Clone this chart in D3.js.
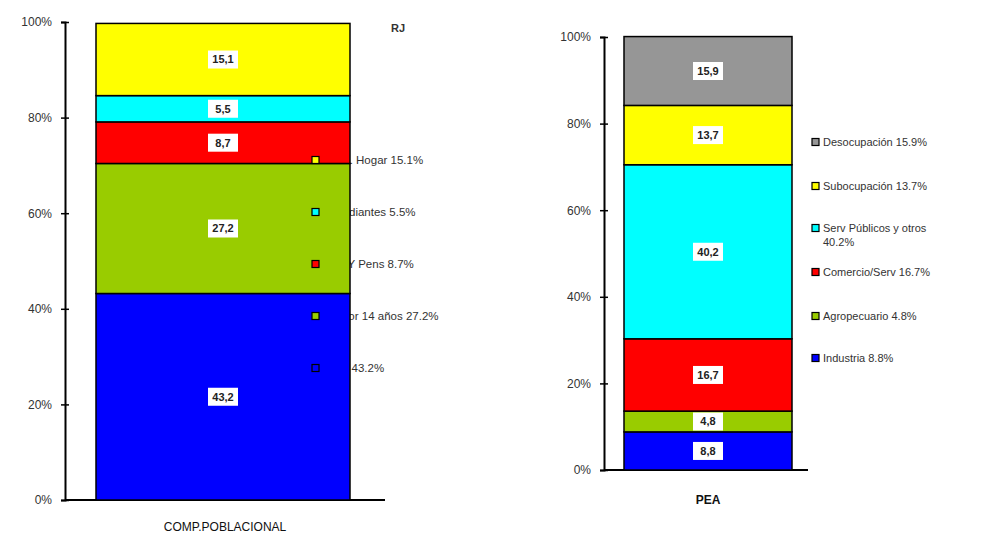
<!DOCTYPE html>
<html>
<head>
<meta charset="utf-8">
<script src="https://cdn.jsdelivr.net/npm/d3@7"></script>
<style>
  body { margin: 0; background: #fff; }
  svg { font-family: "Liberation Sans", Arial, sans-serif; }
</style>
</head>
<body>
<svg id="chart" width="982" height="535"></svg>
<script>
// left chart: population composition, bottom to top
const compCategories = ["PEA", "Menor 14 años", "Jub Y Pens", "Estudiantes", "Ama. Hogar"];
const compValues = [43.2, 27.2, 8.7, 5.5, 15.1];
const compColors = ["#0000ff", "#99cc00", "#ff0000", "#00ffff", "#ffff00"];

// right chart: PEA, bottom to top
const peaCategories = ["Industria", "Agropecuario", "Comercio/Serv", "Serv Públicos y otros", "Subocupación", "Desocupación"];
const peaValues = [8.8, 4.8, 16.7, 40.2, 13.7, 15.9];
const peaColors = ["#0000ff", "#99cc00", "#ff0000", "#00ffff", "#ffff00", "#969696"];

const yTicks = [0, 20, 40, 60, 80, 100];

const svg = d3.select("#chart");

function stack(values) {
  let acc = 0;
  return values.map((v, i) => {
    const d = { i: i, v: v, y0: acc, y1: acc + v };
    acc += v;
    return d;
  });
}

function drawAxis(g, y, xAxis, xEnd) {
  const ax = g.append("g")
    .attr("transform", "translate(" + xAxis + ",0)")
    .call(d3.axisLeft(y).tickValues(yTicks).tickFormat(d => d + "%").tickSize(4).tickPadding(9));
  ax.select(".domain").attr("stroke", "#000").attr("stroke-width", 2);
  ax.selectAll(".tick line").attr("x1", -4).attr("x2", 4).attr("stroke-width", 1.5);
  ax.selectAll(".tick text").style("font-size", "12px").attr("fill", "#333");
  g.append("line")
    .attr("x1", xAxis).attr("x2", xEnd)
    .attr("y1", y(0)).attr("y2", y(0))
    .attr("stroke", "#000").attr("stroke-width", 2);
}

function drawBar(g, y, data, colors, x0, x1, labelX) {
  g.selectAll("rect.seg").data(data).enter().append("rect")
    .attr("class", "seg")
    .attr("x", x0).attr("width", x1 - x0)
    .attr("y", d => y(d.y1)).attr("height", d => y(d.y0) - y(d.y1))
    .attr("fill", d => colors[d.i])
    .attr("stroke", "#000").attr("stroke-width", 1.5);
  const lab = g.selectAll("g.lab").data(data).enter().append("g")
    .attr("class", "lab")
    .attr("transform", d => "translate(" + labelX + "," + y((d.y0 + d.y1) / 2) + ")");
  lab.append("rect")
    .attr("x", -15).attr("y", -9).attr("width", 30).attr("height", 18)
    .attr("fill", "#fff");
  lab.append("text")
    .attr("text-anchor", "middle").attr("dy", "0.35em")
    .style("font-size", "11px").style("font-weight", "bold")
    .attr("fill", "#222")
    .text(d => d.v.toFixed(1).replace(".", ","));
}

// ---- left chart ----
const yL = d3.scaleLinear().domain([0, 100]).range([500, 22]);
const gL = svg.append("g");
const compData = stack(compValues);
const compLegendY = d3.scalePoint().domain(d3.range(compValues.length).reverse()).range([160, 368]);

// legend text sits behind the bar, so its start is hidden
gL.selectAll("text.leg").data(compData).enter().append("text")
  .attr("class", "leg")
  .attr("x", 326).attr("y", d => compLegendY(d.i)).attr("dy", "0.35em")
  .style("font-size", "11.5px").attr("fill", "#333")
  .text(d => compCategories[d.i] + " " + d.v.toFixed(1) + "%");

drawAxis(gL, yL, 65, 385);
drawBar(gL, yL, compData, compColors, 96, 350, 223);

gL.selectAll("rect.mk").data(compData).enter().append("rect")
  .attr("class", "mk")
  .attr("x", 312).attr("y", d => compLegendY(d.i) - 3.5)
  .attr("width", 7).attr("height", 7)
  .attr("fill", d => compColors[d.i]).attr("stroke", "#000").attr("stroke-width", 1.2);

gL.append("text").attr("x", 225).attr("y", 531).attr("text-anchor", "middle")
  .style("font-size", "12px").attr("fill", "#111").text("COMP.POBLACIONAL");
gL.append("text").attr("x", 398).attr("y", 32).attr("text-anchor", "middle")
  .style("font-size", "11px").style("font-weight", "bold").attr("fill", "#333").text("RJ");

// ---- right chart ----
const yR = d3.scaleLinear().domain([0, 100]).range([470, 37]);
const gR = svg.append("g");
const peaData = stack(peaValues);
drawAxis(gR, yR, 604, 808);
drawBar(gR, yR, peaData, peaColors, 624, 792, 708);

const peaLegendY = [358, 316, 272, 228, 186, 142];
const legR = gR.append("g");
legR.selectAll("rect").data(peaData).enter().append("rect")
  .attr("x", 812).attr("y", d => peaLegendY[d.i] - 3.5)
  .attr("width", 7).attr("height", 7)
  .attr("fill", d => peaColors[d.i]).attr("stroke", "#000").attr("stroke-width", 1.2);
legR.selectAll("text").data(peaData).enter().append("text")
  .attr("x", 823).attr("y", d => peaLegendY[d.i]).attr("dy", "0.35em")
  .style("font-size", "11px").attr("fill", "#333")
  .each(function (d) {
    const t = d3.select(this);
    if (d.i === 3) {
      t.append("tspan").text(peaCategories[d.i]);
      t.append("tspan").attr("x", 823).attr("dy", "1.25em").text(d.v.toFixed(1) + "%");
    } else {
      t.text(peaCategories[d.i] + " " + d.v.toFixed(1) + "%");
    }
  });

gR.append("text").attr("x", 708).attr("y", 504).attr("text-anchor", "middle")
  .style("font-size", "12px").style("font-weight", "bold").attr("fill", "#111").text("PEA");
</script>
</body>
</html>
